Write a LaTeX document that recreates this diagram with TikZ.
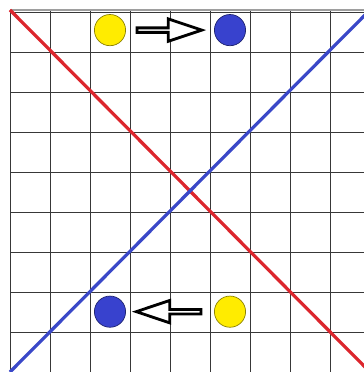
\documentclass[tikz,border=0pt]{standalone}
\usepackage{xcolor}
\usepackage{tikz}
\usetikzlibrary{shapes.arrows,calc}

\definecolor{redline}{RGB}{220,38,45}
\definecolor{blueline}{RGB}{58,72,200}
\definecolor{yelfill}{RGB}{255,236,0}
\definecolor{blufill}{RGB}{56,66,206}

\begin{document}
\begin{tikzpicture}[
    x=1cm, y=1.0056cm,
    gridline/.style={line width=0.6pt, color=black!78},
    diag/.style={line width=2.3pt, color=#1},
    disc/.style={circle, draw=#1!55!black, line width=0.5pt, fill=#1,
                 minimum size=0.78cm, inner sep=0pt},
    blockarr/.style={single arrow, draw=black, fill=white, line width=2pt,
                     minimum height=1.62cm, minimum width=0.56cm,
                     single arrow head extend=0.14cm,
                     single arrow tip angle=37, inner sep=0pt},
  ]
  \useasboundingbox (-0.25,0) rectangle (8.85,9.2486);
  \clip (-0.25,0) rectangle (8.85,9.2486);

  % Board
  \draw[gridline] (0,0.01) grid (9,9);
  \draw[line width=0.9pt, color=black!38] (0,9) -- (9,9);

  % Corners for the two diagonals
  \coordinate (tl) at (0,9);
  \coordinate (br) at (9,0);
  \coordinate (bl) at (0,0);
  \coordinate (tr) at (9,9);
  \draw[diag=redline] (tl) -- (br);
  \draw[diag=blueline] (bl) -- (tr);

  % Top row: yellow moves to blue
  \node[disc=yelfill] (ytop) at (2.5,8.5) {};
  \node[disc=blufill] (btop) at (5.5,8.5) {};
  \node[blockarr, xshift=-0.1cm] (arrtop) at ($(ytop)!0.5!(btop)$) {};

  % Bottom row: arrow points back to blue
  \node[disc=blufill] (bbot) at (2.5,1.5) {};
  \node[disc=yelfill] (ybot) at (5.5,1.5) {};
  \node[blockarr, shape border rotate=180, xshift=0.05cm] (arrbot)
    at ($(bbot)!0.5!(ybot)$) {};
\end{tikzpicture}
\end{document}
